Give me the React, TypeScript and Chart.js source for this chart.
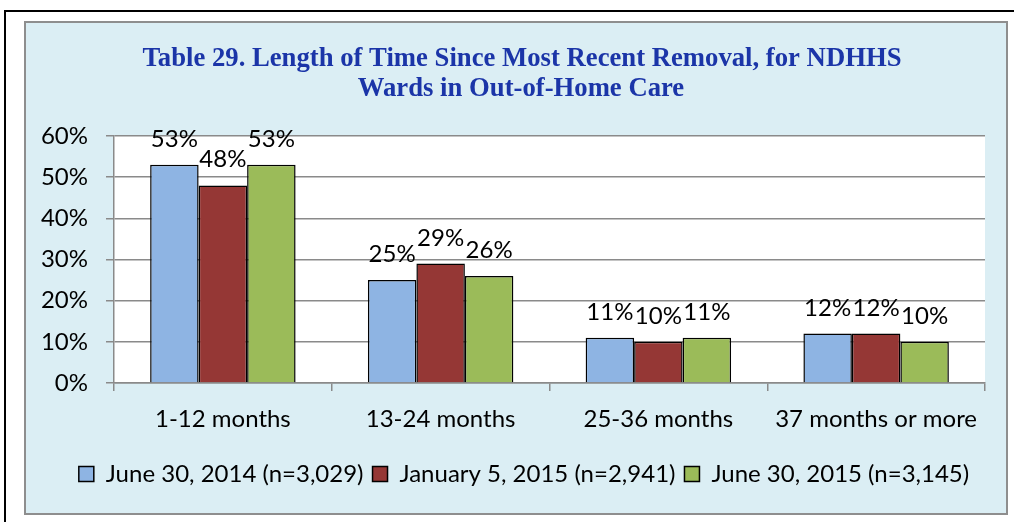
import React, { useEffect, useRef } from 'react';
import { Chart, registerables } from 'chart.js';

Chart.register(...registerables);

const categories = ['1-12 months', '13-24 months', '25-36 months', '37 months or more'];
const seriesNames = ['June 30, 2014 (n=3,029)', 'January 5, 2015 (n=2,941)', 'June 30, 2015 (n=3,145)'];
const june2014 = [53, 25, 11, 12];
const jan2015 = [48, 29, 10, 12];
const june2015 = [53, 26, 11, 10];
const seriesColors = ['#8EB4E3', '#953735', '#9BBB59'];
const titleLines = ['Table 29. Length of Time Since Most Recent Removal, for NDHHS', 'Wards in Out-of-Home Care'];

const FONT = 'Lato';
const GRID = '#8a8a8a';

const frame = {
  id: 'frame',
  afterLayout(chart: any) {
    // let y tick labels extend into the left padding without being clipped
    chart.scales.y.left = 0;
  },
  beforeDraw(chart: any) {
    const { ctx, chartArea } = chart;
    ctx.save();
    ctx.fillStyle = '#ffffff';
    ctx.fillRect(0, 0, chart.width, chart.height);
    // page frame
    ctx.fillStyle = '#000000';
    ctx.fillRect(4, 10, chart.width - 4, 2);
    ctx.fillRect(4, 10, 2, chart.height - 10);
    // chart box
    ctx.fillStyle = '#DBEEF4';
    ctx.fillRect(25, 22, 982, 492);
    ctx.strokeStyle = '#8e8e8e';
    ctx.lineWidth = 2;
    ctx.strokeRect(25, 22, 982, 492);
    // plot area
    ctx.fillStyle = '#ffffff';
    ctx.fillRect(chartArea.left, chartArea.top, chartArea.right - chartArea.left, chartArea.bottom - chartArea.top);
    // title
    ctx.fillStyle = '#1B35A8';
    ctx.font = 'bold 26.7px "Liberation Serif"';
    ctx.textAlign = 'center';
    ctx.textBaseline = 'alphabetic';
    ctx.fillText(titleLines[0], 522, 66);
    ctx.fillText(titleLines[1], 521, 96);
    ctx.restore();
  },
};

const valueLabels = {
  id: 'valueLabels',
  afterDatasetsDraw(chart: any) {
    const { ctx } = chart;
    ctx.save();
    ctx.fillStyle = '#000000';
    ctx.font = `24px ${FONT}`;
    ctx.textAlign = 'center';
    ctx.textBaseline = 'alphabetic';
    chart.data.datasets.forEach((ds: any, i: number) => {
      const meta = chart.getDatasetMeta(i);
      meta.data.forEach((bar: any, j: number) => {
        ctx.fillText(ds.data[j] + '%', bar.x, bar.y - 18);
      });
    });
    ctx.restore();
  },
};

export default function App() {
  const ref = useRef<HTMLCanvasElement>(null);
  useEffect(() => {
    if (!ref.current) return;
    const chart = new Chart(ref.current, {
      type: 'bar',
      data: {
        labels: categories,
        datasets: [june2014, jan2015, june2015].map((d, i) => ({
          label: seriesNames[i],
          data: d,
          backgroundColor: seriesColors[i],
          borderColor: '#000000',
          borderWidth: 1.5,
          categoryPercentage: 0.668,
          barPercentage: 1,
        })),
      },
      options: {
        animation: false,
        responsive: false,
        devicePixelRatio: 1,
        layout: { padding: { top: 136, left: 63, right: 29, bottom: 26 } },
        plugins: {
          title: { display: false },
          tooltip: { enabled: false },
          legend: {
            position: 'bottom',
            labels: {
              boxWidth: 15,
              boxHeight: 15,
              padding: 9,
              color: '#000000',
              font: { family: FONT, size: 24 },
            },
          },
        },
        scales: {
          x: {
            grid: { drawOnChartArea: false, drawTicks: true, tickLength: 8, color: GRID, lineWidth: 1.5, offset: true },
            border: { color: GRID, width: 1.5 },
            ticks: { color: '#000000', font: { family: FONT, size: 24 }, padding: 14, maxRotation: 0, autoSkip: false },
            afterFit: (s: any) => { s.height = 70; },
          },
          y: {
            min: 0,
            max: 60,
            grid: { color: GRID, lineWidth: 1.5, tickLength: 8, drawTicks: true },
            border: { color: GRID, width: 1.5 },
            ticks: {
              stepSize: 10,
              color: '#000000',
              font: { family: FONT, size: 24 },
              padding: 18,
              callback: (v: any) => v + '%',
            },
            afterFit: (s: any) => { s.width = 51; },
          },
        },
      },
      plugins: [frame, valueLabels],
    });
    return () => chart.destroy();
  }, []);
  return (
    <div style={{ position: 'fixed', left: 0, top: 0, width: 1014, height: 522 }}>
      <canvas ref={ref} width={1014} height={522} style={{ display: 'block' }} />
    </div>
  );
}
